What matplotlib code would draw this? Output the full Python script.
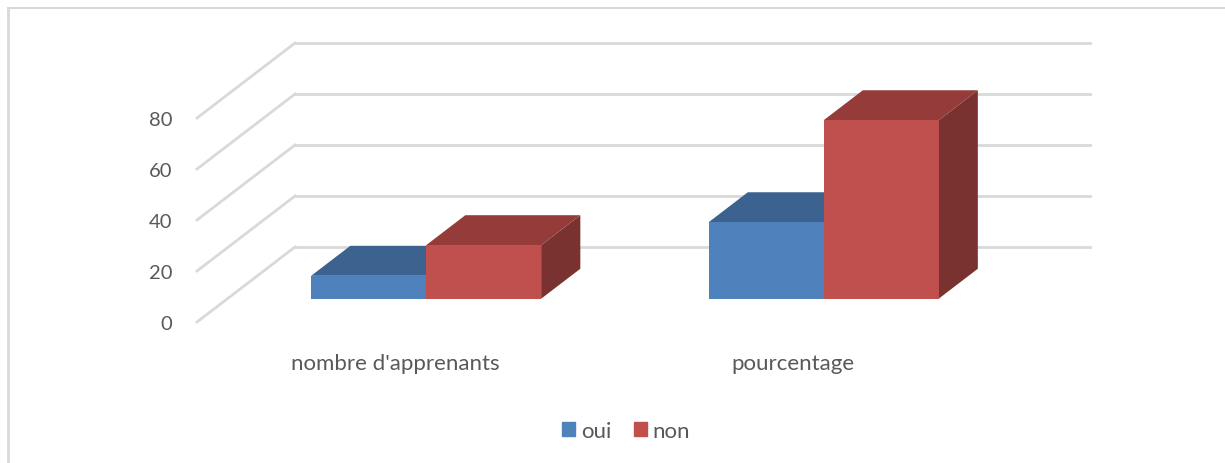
import matplotlib
matplotlib.use("Agg")
import matplotlib.pyplot as plt
from matplotlib.patches import Polygon, Patch
from matplotlib.lines import Line2D

plt.rcParams['font.family'] = ['Lato', 'DejaVu Sans']

# data
categories = ["nombre d'apprenants", "pourcentage"]
series = ["oui", "non"]
oui_values = [9, 30]
non_values = [21, 70]
y_ticks = [0, 20, 40, 60, 80]

# styling
FRONT = {"oui": "#4F81BD", "non": "#C0504D"}
TOP = {"oui": "#3C638F", "non": "#953B39"}
SIDE = {"oui": "#2F4E72", "non": "#7A3230"}
GRID = "#D9D9D9"
TEXT = "#595959"

W, H = 1225, 464
fig = plt.figure(figsize=(W / 100, H / 100), dpi=100)

# axes = front plane of the 3d box (depth 0), value range 0..80
x0, x1 = 197, 992
y_zero, y_top = 323, 119
ax = fig.add_axes([x0 / W, (H - y_zero) / H, (x1 - x0) / W, (y_zero - y_top) / H])
ax.set_xlim(0, len(categories))
ax.set_ylim(0, 80)
for s in ax.spines.values():
    s.set_visible(False)

# oblique depth offset for the full depth of the box, in data units
px_per_x = (x1 - x0) / len(categories)
px_per_y = (y_zero - y_top) / 80
DX = 98 / px_per_x
DY = 75 / px_per_y


def proj(x, y, d):
    return (x + d * DX, y + d * DY)


# walls / gridlines
for v in y_ticks:
    ax.add_line(Line2D(*zip(proj(0, v, 0), proj(0, v, 1)), color=GRID, lw=2,
                       clip_on=False, zorder=1))
    ax.add_line(Line2D(*zip(proj(0, v, 1), proj(len(categories), v, 1)), color=GRID,
                       lw=2, clip_on=False, zorder=1))

# bars
d0, d1 = 0.31, 0.71
bar_w = 115 / px_per_x
xs = [i + 0.5 for i in range(len(categories))]
values = {"oui": oui_values, "non": non_values}
for i, xc in enumerate(xs):
    for j, name in enumerate(series):
        v = values[name][i]
        left = xc - bar_w + j * bar_w
        fx, fy = proj(left, 0, d0)
        ax.bar(fx, v, width=bar_w, bottom=fy, align='edge', color=FRONT[name],
               clip_on=False, zorder=3 + j)
        top = [proj(left, v, d0), proj(left + bar_w, v, d0),
               proj(left + bar_w, v, d1), proj(left, v, d1)]
        side = [proj(left + bar_w, 0, d0), proj(left + bar_w, v, d0),
                proj(left + bar_w, v, d1), proj(left + bar_w, 0, d1)]
        ax.add_patch(Polygon(side, closed=True, color=SIDE[name], clip_on=False,
                             zorder=2 + j, lw=0))
        ax.add_patch(Polygon(top, closed=True, color=TOP[name], clip_on=False,
                             zorder=2 + j, lw=0))

ax.set_yticks(y_ticks)
ax.set_yticklabels([str(t) for t in y_ticks])
ax.set_xticks(xs)
ax.set_xticklabels(categories)
ax.tick_params(axis='both', length=0, colors=TEXT)
ax.tick_params(axis='y', pad=18, labelsize=14.5)
ax.tick_params(axis='x', pad=22, labelsize=16)

handles = [Patch(color=FRONT[s], label=s) for s in series]
fig.legend(handles=handles, loc='center', bbox_to_anchor=(626 / W, 1 - 432 / H),
           ncol=2, frameon=False, fontsize=16, handlelength=0.6, handleheight=0.6,
           handletextpad=0.25, columnspacing=1.0, labelcolor=TEXT)

# chart-area border (left and top visible)
fig.add_artist(Line2D([8 / W, 8 / W], [0, 1 - 9 / H], color=GRID, lw=2))
fig.add_artist(Line2D([8 / W, 1], [1 - 9 / H, 1 - 9 / H], color=GRID, lw=1.5))

fig.savefig("out.png", dpi=100)
